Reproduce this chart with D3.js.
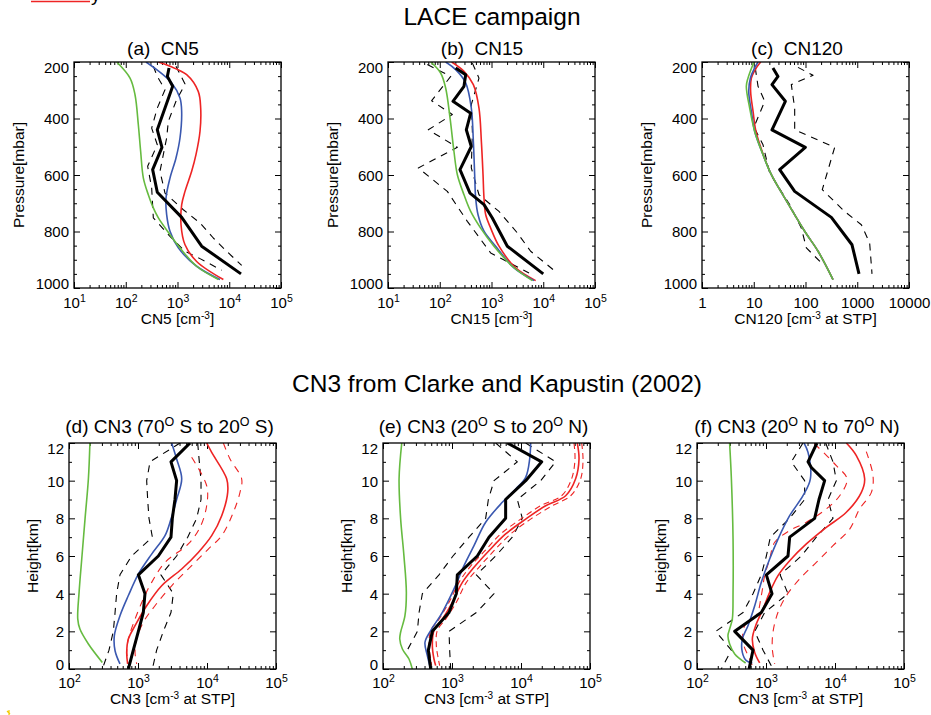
<!DOCTYPE html>
<html><head><meta charset="utf-8">
<script src="https://cdn.jsdelivr.net/npm/d3@7"></script>
<style>
body{margin:0;background:#fff}
svg{display:block;font-family:"Liberation Sans",Arial,Helvetica,sans-serif}
text{white-space:pre}
</style>
</head><body>
<svg id="chart" width="931" height="715"></svg>
<script>
// ---------------- DATA ----------------
// Top row: [pressure (mbar), concentration]
const aMean  = [[221,686],[251,637],[286,807],[440,407],[502,501],[581,331],[661,407],[750,1205],[852,2931],[950,16870]];
const aLow   = [[215,341],[251,407],[298,573],[363,407],[434,317],[493,407],[569,265],[646,317],[752,341],[817,716],[870,1397],[896,2723],[937,7130]];
const aHigh  = [[215,935],[278,1397],[339,935],[410,665],[469,617],[528,532],[587,459],[664,573],[723,1297],[770,2723],[823,4920],[870,8910],[920,17380]];
const aBlue  = [[200,246],[227,396],[274,771],[327,1117],[375,1203],[469,1117],[540,935],[611,716],[681,600],[740,617],[799,716],[858,1038],[923,2345],[970,6610]];
const aRed   = [[200,427],[215,716],[245,1503],[304,2515],[363,2805],[445,2723],[528,2275],[587,1878],[658,1397],[705,1205],[776,1170],[847,1397],[906,2345],[970,7690]];
const aGreen = [[200,67],[257,121],[316,151],[422,175],[516,194],[611,219],[670,273],[711,331],[752,427],[811,716],[858,1117],[923,2345],[970,6170]];

const bMean  = [[221,203],[245,317],[286,294],[339,180],[381,396],[440,326],[499,407],[581,246],[664,384],[705,716],[752,1038],[852,2023],[950,10000]];
const bLow   = [[209,57.5],[251,163],[337,69.8],[386,175],[440,60.1],[502,219],[575,38.5],[658,140],[764,341],[876,964],[947,5310]];
const bHigh  = [[204,427],[257,573],[351,407],[445,427],[575,407],[670,573],[729,1397],[805,3155],[870,5710],[947,18700]];
const bBlue  = [[200,130],[227,203],[274,317],[363,407],[481,446],[599,473],[681,494],[740,548],[799,716],[852,1203],[929,2723],[974,6610]];
const bRed   = [[200,170],[233,294],[280,446],[363,573],[481,637],[599,686],[681,716],[740,771],[788,964],[852,1397],[929,2931],[974,7130]];
const bGreen = [[200,67],[239,104],[292,130],[398,158],[516,188],[599,219],[670,294],[729,396],[788,617],[852,1117],[923,2530],[974,6170]];

const cMean  = [[221,23.5],[251,29.4],[280,22.5],[339,40.8],[440,22.5],[502,99.3],[581,31.7],[658,61.8],[750,316],[847,792],[950,1081]];
const cLow   = [[221,10.7],[286,12.1],[339,16.3],[430,10.1],[493,15.1],[593,20.3],[705,49.4],[788,83],[858,104],[911,202]];
const cHigh  = [[219,71.6],[247,140],[280,53.2],[363,61.8],[440,61.8],[502,366],[652,211],[729,571],[776,1200],[841,1738],[950,1928]];
const cBlue  = [[200,12.1],[221,10.4],[257,8.6],[304,8.0],[375,9.0],[445,10.4],[528,15.1],[599,21.9],[681,39.6],[799,96.4],[870,175],[970,340]];
const cRed   = [[200,13.6],[221,11.2],[257,9.0],[304,8.7],[375,9.7],[445,11.0],[528,15.3],[599,21.9],[681,39.6],[799,96.4],[870,175],[970,340]];
const cGreen = [[200,10.1],[257,7.74],[286,7.19],[363,8.34],[445,10.4],[528,15.1],[599,21.9],[681,39.6],[799,96.4],[870,175],[970,340]];

// Bottom row: [height (km), concentration]
const dMean    = [[12,5680],[11,3006],[10,3630],[9,3434],[8,3145],[7,3006],[6,1972],[5,1012],[4,1262],[3,1194],[2,1012],[1,855],[0,725]];
const dLow     = [[12,4065],[11,1493],[10,1336],[9,1380],[8,1443],[7,1615],[6,809],[5,548],[4,490],[3,465],[2,439],[1,380],[0,304]];
const dHigh    = [[12,7330],[11,7740],[10,8190],[9,8190],[8,7080],[7,5250],[6,3630],[5,2150],[4,3250],[3,3006],[2,2330],[1,1862],[0,1615]];
const dBlue    = [[12,3075],[11.15,3630],[10.1,4300],[9,3630],[7.96,3006],[7.08,2460],[6.1,1578],[5.04,1012],[3.9,725],[2.83,548],[1.77,454],[0.97,465],[0.27,548]];
const dGreen   = [[12,201],[10.1,191],[8,171],[5.84,153],[4.07,140],[2.65,134],[2.12,144],[1.33,191],[0.35,304]];
const dRed     = [[12,9890],[11.5,11690],[10.1,19280],[9.38,19950],[8.14,16330],[7.08,11690],[6.19,7480],[5.31,4300],[4.42,2203],[3.36,1336],[2.3,906],[1.59,725],[0.88,686],[0.27,708]];
const dRedHigh = [[12,17260],[11.15,21550],[10.1,31770],[9.38,30060],[8.32,24100],[7.08,16330],[6.37,10450],[5.49,5990],[4.42,3075],[3.36,1762],[2.48,1194],[1.59,957],[0.88,906],[0.27,957]];
const dRedLow  = [[11.24,5990],[9.73,9890],[8.67,9890],[7.52,7920],[6.64,5360],[5.66,2460],[4.6,1578],[3.72,1194],[2.65,906],[1.59,725],[0.88,686],[0.27,725]];

const eMean    = [[12,6340],[11,19950],[10,11690],[9,5990],[8,5990],[7,3434],[6,2330],[5,1194],[4,1155],[3,906],[2,519],[1,454],[0,491]];
const eLow     = [[12,4300],[11,8850],[10,4065],[9,3365],[8,3075],[7,1762],[6,1033],[5,648],[4,372],[3,333],[2,315],[1,225]];
const eHigh    = [[12,11690],[11,31770],[10,19280],[9,8850],[8,10450],[7,7480],[6,4300],[5,2254],[4,4065],[3,2260],[2,906],[1,925],[0,957]];
const eBlue    = [[12,13800],[11.15,13360],[10.18,11690],[9.56,8380],[8.85,5360],[7.79,3075],[6.55,2084],[5.49,1493],[4.25,1069],[3.01,725],[2.04,491],[1.42,406],[0.71,439],[0,491]];
const eGreen   = [[12,187],[10.1,171],[8,180],[6.02,201],[4.07,218],[2.83,208],[1.95,180],[1.59,175],[1.06,191],[0.53,238],[0,266]];
const eRed     = [[12,65460],[11.15,69300],[10.1,61900],[9.2,44400],[8.67,22750],[7.96,11690],[7.17,5990],[6.28,3434],[5.4,2084],[4.6,1413],[3.54,1012],[2.65,725],[2.04,548],[1.24,519],[0.53,548],[0.18,580]];
const eRedHigh = [[12,75700],[11.15,79200],[10.1,73300],[9.2,52500],[8.67,28400],[7.96,13800],[7.17,7080],[6.28,4065],[5.4,2460],[4.6,1615],[3.54,1155],[2.65,809],[2.04,612],[1.24,593],[0.53,634],[0.18,662]];
const eRedLow  = [[12,58600],[11.15,60600],[10.1,54200],[9.2,38800],[8.67,19280],[7.96,9890],[7.17,5070],[6.28,3006],[5.4,1803],[4.6,1262],[3.54,906],[2.65,648],[2.04,491],[1.24,465],[0.53,491],[0.18,507]];

const fMean    = [[12,5480],[11,4065],[10.7,4540],[10,7080],[9,5860],[8,5070],[7,2203],[6,2084],[5,1012],[4,1222],[3,855],[2,352],[1,648],[0,568]];
const fLow     = [[12,3434],[11,2330],[10,3630],[9,3630],[8,2203],[7,1155],[6,1012],[5,855],[4,648],[3,465],[2,187],[1,315],[0,225]];
const fHigh    = [[12,7330],[11,9350],[10,10450],[9,7920],[8,9350],[7,5360],[6,3250],[5,1600],[4,2084],[3,957],[2,686],[1,906],[0,1262]];
const fBlue    = [[12,3556],[11.5,4065],[10.1,4395],[9.2,3434],[8.14,2203],[6.9,1493],[5.84,1130],[4.6,855],[3.36,686],[2.3,548],[1.59,454],[0.88,454],[0.44,519],[0.32,634]];
const fGreen   = [[12,297],[10.1,315],[6.9,333],[4.07,333],[2.65,325],[2.12,297],[1.77,281],[1.33,297],[0.8,352],[0.32,507]];
const fRed     = [[12,14590],[11.33,20370],[10.1,26900],[9.38,24100],[8.32,14590],[7.52,7480],[6.64,3845],[5.75,2203],[4.96,1493],[4.07,1130],[3.19,906],[2.3,708],[1.59,634],[0.88,686],[0.32,809]];
const fRedHigh = [[11.54,28400],[10.27,35560],[9.38,33650],[8.5,22750],[7.43,16330],[6.55,9350],[5.66,5360],[4.78,3075],[3.89,1972],[3.01,1493],[1.95,1262],[1.06,1235],[0.27,1336]];
const fRedLow  = [[11.95,5070],[10.8,10450],[10.09,14930],[9.2,11690],[8.5,7480],[7.79,3845],[7.35,2203],[6.73,1336],[5.84,1130],[4.96,957],[3.89,855],[2.83,725],[2.3,491],[1.42,465],[0.53,580],[0.18,634]];

// Tick values / labels
const pressureMajor = [200,400,600,800,1000];
const pressureMinor = [250,300,350,450,500,550,650,700,750,850,900,950];
const heightMajor = [0,2,4,6,8,10,12];
const heightMinor = [1,3,5,7,9,11];
const decadesAB = [10,100,1000,10000,100000];
const decadesC  = [1,10,100,1000,10000];
const decadesDEF = [100,1000,10000,100000];
const labelsC = ["1","10","100","1000","10000"];

// ---------------- DRAWING ----------------
const svg = d3.select("#chart");
const FONT = '"Liberation Sans", Arial, Helvetica, sans-serif';
const RED = "#ee2424", BLUE = "#3a58b0", GREEN = "#66bb40";

function addRich(t, parts, supSize, rise){
  let up = false;
  parts.forEach(([s, sup]) => {
    const ts = t.append("tspan").text(s);
    if (sup){ ts.attr("font-size", supSize).attr("dy", -rise); up = true; }
    else if (up){ ts.attr("dy", rise); up = false; }
  });
}

const expFmt = d => [["10",false],[String(Math.round(Math.log10(d))),true]];

function drawPanel(p){
  const g = svg.append("g");
  const x = d3.scaleLog().domain([p.xMajor[0], p.xMajor[p.xMajor.length-1]]).range([p.L, p.R]);
  const y = d3.scaleLinear().domain(p.yDom).range([p.T, p.B]);
  const id = "clip" + p.id;
  svg.append("clipPath").attr("id", id).append("rect")
    .attr("x", p.L).attr("y", p.T).attr("width", p.R - p.L).attr("height", p.B - p.T);

  const xMinor = [];
  p.xMajor.slice(0, -1).forEach(d => { for (let k = 2; k < 10; k++) xMinor.push(d * k); });

  const clean = s => { s.select(".domain").remove(); s.selectAll(".tick line").attr("stroke", "#000").attr("stroke-width", 1); };

  // bottom
  g.append("g").attr("transform", `translate(0,${p.B})`)
    .call(d3.axisBottom(x).tickValues(xMinor).tickSize(-3).tickFormat("")).call(clean);
  const xb = g.append("g").attr("transform", `translate(0,${p.B})`)
    .call(d3.axisBottom(x).tickValues(p.xMajor).tickSize(-6)).call(clean);
  xb.attr("font-family", FONT).attr("font-size", 15);
  xb.selectAll(".tick text").attr("fill", "#000").attr("y", p.xLabY).attr("dy", null)
    .each(function(d, i){ const t = d3.select(this); t.text(null); addRich(t, p.xFmt(d, i), 10.5, 6); });
  // top
  g.append("g").attr("transform", `translate(0,${p.T})`)
    .call(d3.axisTop(x).tickValues(xMinor).tickSize(-3).tickFormat("")).call(clean);
  g.append("g").attr("transform", `translate(0,${p.T})`)
    .call(d3.axisTop(x).tickValues(p.xMajor).tickSize(-6).tickFormat("")).call(clean);
  // left
  g.append("g").attr("transform", `translate(${p.L},0)`)
    .call(d3.axisLeft(y).tickValues(p.yMinor).tickSize(-3).tickFormat("")).call(clean);
  const yl = g.append("g").attr("transform", `translate(${p.L},0)`)
    .call(d3.axisLeft(y).tickValues(p.yMajor).tickSize(-6).tickPadding(5).tickFormat(d3.format("d"))).call(clean);
  yl.attr("font-family", FONT).attr("font-size", 15);
  yl.selectAll(".tick text").attr("fill", "#000").attr("dy", "0.36em")
    .attr("y", d => d === p.yDom[0] ? 5 : (d === p.yDom[1] ? -5 : 0));
  // right
  g.append("g").attr("transform", `translate(${p.R},0)`)
    .call(d3.axisRight(y).tickValues(p.yMinor).tickSize(-3).tickFormat("")).call(clean);
  g.append("g").attr("transform", `translate(${p.R},0)`)
    .call(d3.axisRight(y).tickValues(p.yMajor).tickSize(-6).tickFormat("")).call(clean);

  // series
  const lines = g.append("g").attr("clip-path", `url(#${id})`);
  p.series.forEach(s => {
    const gen = d3.line().x(d => x(d[1])).y(d => y(d[0]))
      .curve(s.smooth ? d3.curveCatmullRom.alpha(0.5) : d3.curveLinear);
    lines.append("path").datum(s.data).attr("d", gen)
      .attr("fill", "none").attr("stroke", s.color).attr("stroke-width", s.width)
      .attr("stroke-dasharray", s.dash || null).attr("stroke-linejoin", "round");
  });

  // frame
  g.append("rect").attr("x", p.L).attr("y", p.T).attr("width", p.R - p.L).attr("height", p.B - p.T)
    .attr("fill", "none").attr("stroke", "#000").attr("stroke-width", 1.3);

  // title
  const tt = g.append("text").attr("x", p.titleX).attr("y", p.titleY).attr("text-anchor", "middle")
    .attr("font-size", 19).attr("fill", "#000");
  addRich(tt, p.title, 12.5, 7);
  // x title
  const xt = g.append("text").attr("x", (p.L + p.R) / 2).attr("y", p.xTitleY).attr("text-anchor", "middle")
    .attr("font-size", 15.5).attr("fill", "#000");
  addRich(xt, p.xTitle, 10, 5);
  // y title
  const yc = (p.T + p.B) / 2, yx = p.L - p.yTitleOff + 5.5;
  g.append("text").attr("transform", `translate(${yx},${yc}) rotate(-90)`).attr("text-anchor", "middle")
    .attr("font-size", 15.5).attr("fill", "#000").text(p.yTitle);
}

function topSeries(mean, low, high, blue, red, green){
  return [
    {data: low, color: "#000", width: 1.1, dash: "7,6"},
    {data: high, color: "#000", width: 1.1, dash: "7,6"},
    {data: red, color: RED, width: 1.6, smooth: true},
    {data: blue, color: BLUE, width: 1.6, smooth: true},
    {data: green, color: GREEN, width: 1.6, smooth: true},
    {data: mean, color: "#000", width: 3}
  ];
}
function botSeries(mean, low, high, blue, red, redLow, redHigh, green, rdash){
  return [
    {data: low, color: "#000", width: 1.1, dash: "7,6"},
    {data: high, color: "#000", width: 1.1, dash: "7,6"},
    {data: redLow, color: RED, width: 1.1, dash: rdash, smooth: true},
    {data: redHigh, color: RED, width: 1.1, dash: rdash, smooth: true},
    {data: red, color: RED, width: 1.6, smooth: true},
    {data: blue, color: BLUE, width: 1.6, smooth: true},
    {data: green, color: GREEN, width: 1.6, smooth: true},
    {data: mean, color: "#000", width: 3}
  ];
}

const topCommon = {T: 62, B: 288, yDom: [200, 1000], yMajor: pressureMajor, yMinor: pressureMinor,
  xLabY: 19.5, titleY: 55, xTitleY: 324, yTitle: "Pressure[mbar]", yTitleOff: 56};
const botCommon = {T: 443, B: 669, yDom: [12, 0], yMajor: heightMajor, yMinor: heightMinor,
  xLabY: 18.5, titleY: 433, xTitleY: 704, yTitle: "Height[km]", yTitleOff: 37,
  xMajor: decadesDEF, xFmt: expFmt,
  xTitle: [["CN3 [cm",false],["-3",true],[" at STP]",false]]};

drawPanel(Object.assign({}, topCommon, {id: "a", L: 74, R: 281, xMajor: decadesAB, xFmt: expFmt,
  titleX: 163, title: [["(a)  CN5", false]], xTitle: [["CN5 [cm",false],["-3",true],["]",false]],
  series: topSeries(aMean, aLow, aHigh, aBlue, aRed, aGreen)}));
drawPanel(Object.assign({}, topCommon, {id: "b", L: 388, R: 595, xMajor: decadesAB, xFmt: expFmt,
  titleX: 482, title: [["(b)  CN15", false]], xTitle: [["CN15 [cm",false],["-3",true],["]",false]],
  series: topSeries(bMean, bLow, bHigh, bBlue, bRed, bGreen)}));
drawPanel(Object.assign({}, topCommon, {id: "c", L: 702, R: 909, xMajor: decadesC, xFmt: (d, i) => [[labelsC[i], false]],
  titleX: 797, title: [["(c)  CN120", false]], xTitle: [["CN120 [cm",false],["-3",true],[" at STP]",false]],
  series: topSeries(cMean, cLow, cHigh, cBlue, cRed, cGreen)}));

drawPanel(Object.assign({}, botCommon, {id: "d", L: 69, R: 276, titleX: 169.5,
  title: [["(d) CN3 (70", false], ["O", true], [" S to 20", false], ["O", true], [" S)", false]],
  series: botSeries(dMean, dLow, dHigh, dBlue, dRed, dRedLow, dRedHigh, dGreen, "7,6")}));
drawPanel(Object.assign({}, botCommon, {id: "e", L: 383, R: 590, titleX: 483.5,
  title: [["(e) CN3 (20", false], ["O", true], [" S to 20", false], ["O", true], [" N)", false]],
  series: botSeries(eMean, eLow, eHigh, eBlue, eRed, eRedLow, eRedHigh, eGreen, "6,4")}));
drawPanel(Object.assign({}, botCommon, {id: "f", L: 697, R: 904, titleX: 797,
  title: [["(f) CN3 (20", false], ["O", true], [" N to 70", false], ["O", true], [" N)", false]],
  series: botSeries(fMean, fLow, fHigh, fBlue, fRed, fRedLow, fRedHigh, fGreen, "7,6")}));

// main titles
svg.append("text").attr("x", 492).attr("y", 25).attr("text-anchor", "middle")
  .attr("font-size", 24.5).attr("fill", "#000").text("LACE campaign");
svg.append("text").attr("x", 497).attr("y", 392).attr("text-anchor", "middle")
  .attr("font-size", 24.5).attr("fill", "#000").text("CN3 from Clarke and Kapustin (2002)");

// cut-off legend fragment at top-left (as in the reference)
svg.append("line").attr("x1", 31).attr("x2", 90).attr("y1", 1.5).attr("y2", 1.5)
  .attr("stroke", RED).attr("stroke-width", 1.3);
svg.append("text").attr("x", 91).attr("y", 1).attr("font-size", 19).attr("fill", "#000").text("y");
// small yellow mark bottom-left
svg.append("path").attr("d", "M7,711 L10,714 M9,710 L9,715").attr("stroke", "#f2cc00").attr("stroke-width", 1.2);
</script>
</body></html>
